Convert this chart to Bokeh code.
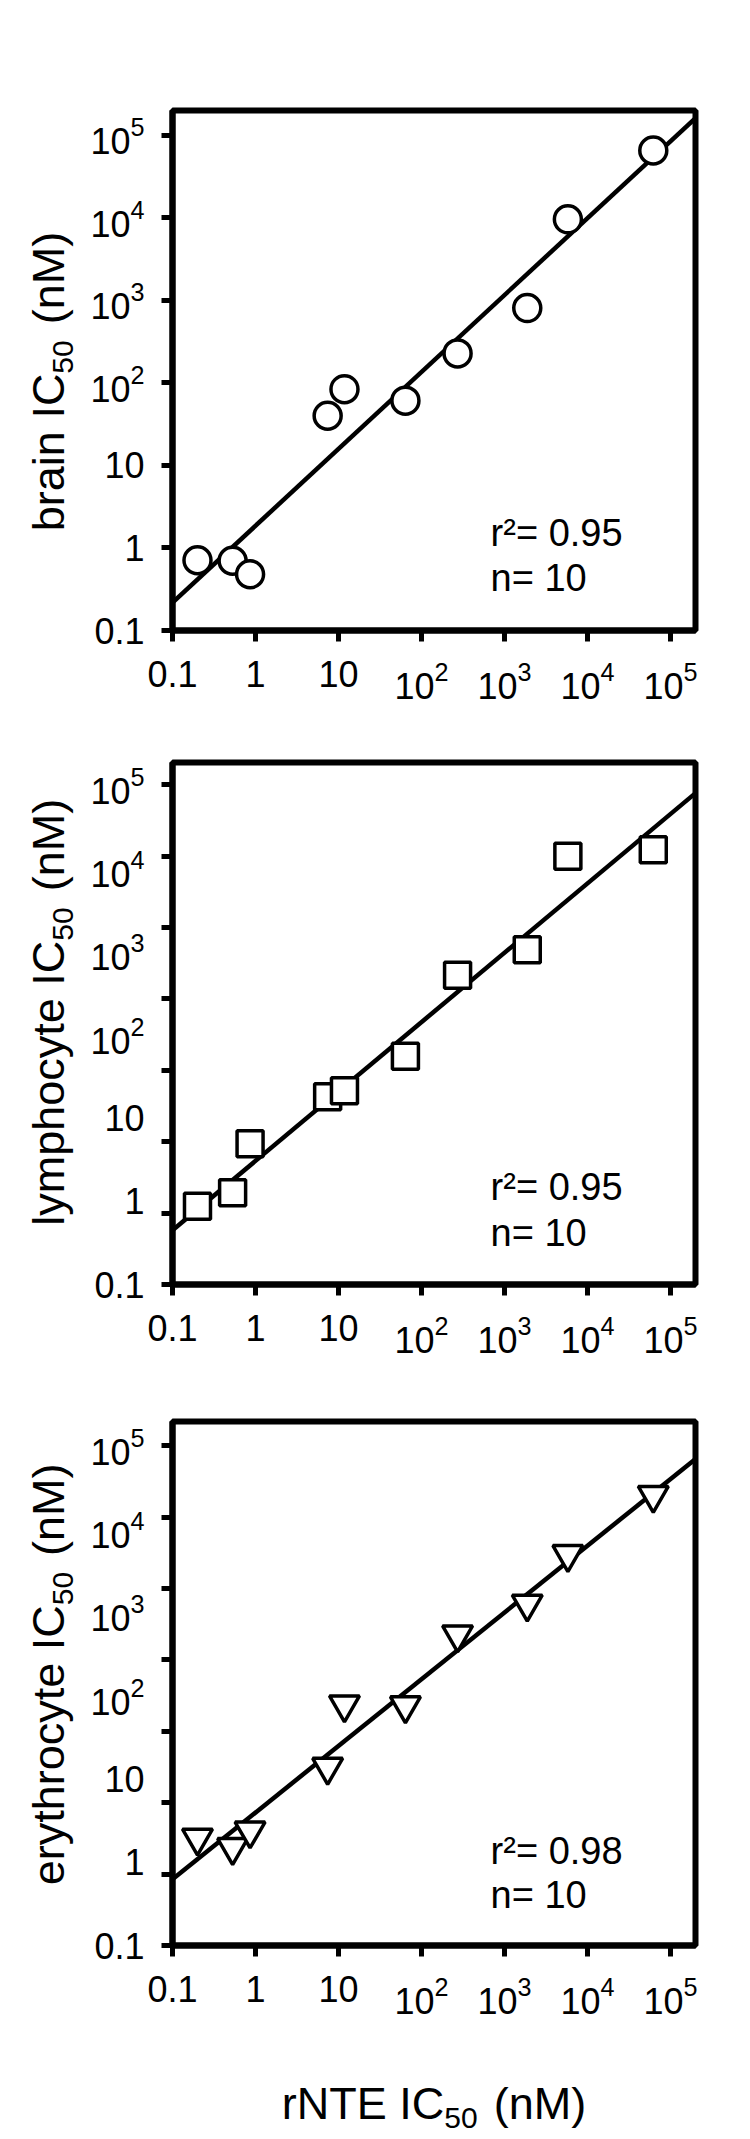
import math
import numpy as np
from bokeh.plotting import figure
from bokeh.layouts import column, row
from bokeh.models import Range1d, FixedTicker, LogTickFormatter, Label
from bokeh.embed import file_html
from bokeh.resources import INLINE

# ---------------- data (nM) ----------------
rnte_ic50 = [0.20, 0.53, 0.86, 7.4, 11.8, 64, 272, 1880, 5800, 62000]
brain_ic50 = [0.71, 0.70, 0.48, 40, 84, 61, 228, 807, 9600, 65500]
lymphocyte_ic50 = [0.87, 1.26, 4.9, 17.9, 21.2, 55, 515, 1047, 13900, 16600]
erythrocyte_ic50 = [1.96, 1.51, 2.39, 13.9, 78, 76, 540, 1262, 4980, 25500]

# regression lines (log10 y = a + b * log10 x)
brain_fit = (0.269, 0.932)
lymphocyte_fit = (0.484, 0.833)
erythrocyte_fit = (0.595, 0.801)

r2_texts = ["r²= 0.95", "r²= 0.95", "r²= 0.98"]
n_texts = ["n= 10", "n= 10", "n= 10"]
y_title_main = ["brain IC", "lymphocyte IC", "erythrocyte IC"]
x_title_main = "rNTE IC"
title_sub = "50"
title_unit = "(nM)"

decade_ticks = [0.1, 1, 10, 100, 1000, 10000, 100000]
plain_labels = {0.1: "0.1", 1: "1", 10: "10"}

FONT = "Liberation Sans"
W = 740            # full row width
TW = 86            # width of the strip holding the rotated y titles
FRAME_L = 172      # frame left edge in page pixels
FRAME_W = 523
X0, X1 = 0.1, 2.0e5
TITLE_PX, SUB_PX, SUB_DROP, SUB_GAP = 45, 30, 14, 16

# Arial / Liberation Sans advance widths (per 1000 em)
ADV = {"r": 333, "N": 722, "T": 611, "E": 667, " ": 278, "I": 278, "C": 722,
       "(": 333, "n": 556, "M": 833, ")": 333, "b": 556, "a": 556, "i": 222,
       "l": 222, "y": 500, "m": 833, "p": 556, "h": 556, "o": 556, "c": 500,
       "t": 278, "e": 556, "5": 556, "0": 556}


def text_w(s, px):
    return sum(ADV.get(ch, 556) for ch in s) / 1000.0 * px


def title_offsets(main):
    wm = text_w(main, TITLE_PX)
    ws = text_w(title_sub, SUB_PX)
    wu = text_w(title_unit, TITLE_PX)
    total = wm + ws + SUB_GAP + wu
    s0 = -total / 2.0
    return [s0, s0 + wm, s0 + wm + ws + SUB_GAP]


def styled_label(**kw):
    return Label(text_font=FONT, text_color="black", text_baseline="alphabetic",
                 text_align="left", **kw)


def blank_fig(w, h):
    f = figure(width=w, height=h, x_range=Range1d(0, w), y_range=Range1d(0, h),
               x_axis_location=None, y_axis_location=None,
               output_backend="svg", toolbar_location=None, min_border=0)
    f.grid.visible = False
    f.outline_line_color = None
    f.background_fill_color = "white"
    f.border_fill_color = "white"
    return f


def y_title_fig(main, h, top, frame_h):
    f = blank_fig(TW, h)
    yc = h - (top + frame_h / 2.0)
    bx = 48
    o = title_offsets(main)
    f.add_layout(styled_label(x=bx, y=yc, y_offset=o[0], angle=math.pi / 2,
                              text=main, text_font_size=f"{TITLE_PX}px"))
    f.add_layout(styled_label(x=bx + SUB_DROP, y=yc, y_offset=o[1], angle=math.pi / 2,
                              text=title_sub, text_font_size=f"{SUB_PX}px"))
    f.add_layout(styled_label(x=bx, y=yc, y_offset=o[2], angle=math.pi / 2,
                              text=title_unit, text_font_size=f"{TITLE_PX}px"))
    return f


def x_title_fig(main, h, baseline_from_bottom):
    f = blank_fig(W, h)
    xc = FRAME_L + FRAME_W / 2.0
    o = title_offsets(main)
    f.add_layout(styled_label(x=xc, y=baseline_from_bottom, x_offset=o[0],
                              text=main, text_font_size=f"{TITLE_PX}px"))
    f.add_layout(styled_label(x=xc, y=baseline_from_bottom - SUB_DROP, x_offset=o[1],
                              text=title_sub, text_font_size=f"{SUB_PX}px"))
    f.add_layout(styled_label(x=xc, y=baseline_from_bottom, x_offset=o[2],
                              text=title_unit, text_font_size=f"{TITLE_PX}px"))
    return f


def make_panel(yvals, fit, marker, msize, r2, ntext, height, top, bottom,
               y_end, odd_ticks, r2y=1.5, ny=0.43):
    pw = W - TW
    p = figure(width=pw, height=height, x_axis_type="log", y_axis_type="log",
               x_range=Range1d(X0, X1), y_range=Range1d(0.1, y_end),
               output_backend="svg", toolbar_location=None,
               min_border_left=FRAME_L - TW, min_border_right=pw - (FRAME_L - TW) - FRAME_W,
               min_border_top=top, min_border_bottom=bottom)
    p.grid.visible = False
    p.background_fill_color = "white"
    p.border_fill_color = "white"
    p.outline_line_color = "black"
    p.outline_line_width = 6

    # x axis
    xa = p.xaxis[0]
    xa.ticker = FixedTicker(ticks=decade_ticks)
    xa.formatter = LogTickFormatter()
    xa.major_label_overrides = plain_labels
    xa.axis_line_width = 6
    xa.major_tick_line_width = 5
    xa.major_tick_out = 11
    xa.major_tick_in = 0
    xa.minor_tick_line_color = None
    xa.major_label_standoff = 19
    xa.major_label_text_font = FONT
    xa.major_label_text_font_size = "36px"
    xa.major_label_text_color = "black"

    # y axis
    ya = p.yaxis[0]
    ya.formatter = LogTickFormatter()
    ya.major_label_overrides = plain_labels
    ya.axis_line_width = 6
    if odd_ticks:
        ya.ticker = FixedTicker(ticks=decade_ticks,
                                minor_ticks=[10 ** (-1 + 6 * k / 7) for k in range(8)])
        ya.major_tick_out = 0
        ya.major_tick_in = 0
        ya.major_tick_line_color = None
        ya.minor_tick_out = 11
        ya.minor_tick_in = 0
        ya.minor_tick_line_width = 5
        ya.minor_tick_line_color = "black"
    else:
        ya.ticker = FixedTicker(ticks=decade_ticks)
        ya.major_tick_out = 11
        ya.major_tick_in = 0
        ya.major_tick_line_width = 5
        ya.minor_tick_line_color = None
    ya.major_label_standoff = 17
    ya.major_label_text_font = FONT
    ya.major_label_text_font_size = "36px"
    ya.major_label_text_color = "black"

    # regression line
    xs = np.array([X0, X1])
    ys = 10 ** (fit[0] + fit[1] * np.log10(xs))
    p.line(xs, ys, line_color="black", line_width=4.5)

    # data points
    p.scatter(rnte_ic50, yvals, marker=marker, size=msize,
              fill_color="white", line_color="black", line_width=3.5)

    for txt, yy in ((r2, r2y), (ntext, ny)):
        p.add_layout(styled_label(x=680, y=yy, text=txt, text_font_size="38px"))
    return p


H1, T1, F1 = 710, 110, 520
H2, T2, F2 = 654, 52, 522
H3, T3, F3 = 661, 57, 524
HX = 2139 - H1 - H2 - H3

p1 = make_panel(brain_ic50, brain_fit, "circle", 27, r2_texts[0], n_texts[0],
                height=H1, top=T1, bottom=H1 - T1 - F1, y_end=2.0e5, odd_ticks=False,
                r2y=1.5, ny=0.43)
p2 = make_panel(lymphocyte_ic50, lymphocyte_fit, "square", 26, r2_texts[1], n_texts[1],
                height=H2, top=T2, bottom=H2 - T2 - F2, y_end=1.85e5, odd_ticks=True,
                r2y=1.48, ny=0.42)
p3 = make_panel(erythrocyte_ic50, erythrocyte_fit, "inverted_triangle", 30, r2_texts[2], n_texts[2],
                height=H3, top=T3, bottom=H3 - T3 - F3, y_end=1.95e5, odd_ticks=True,
                r2y=1.38, ny=0.40)

t1 = y_title_fig(y_title_main[0], H1, T1, F1)
t2 = y_title_fig(y_title_main[1], H2, T2, F2)
t3 = y_title_fig(y_title_main[2], H3, T3, F3)
xt = x_title_fig(x_title_main, HX, HX - 78.3)

layout = column(row(t1, p1, spacing=0), row(t2, p2, spacing=0), row(t3, p3, spacing=0), xt,
                spacing=0)
open("out.html", "w").write(file_html(layout, INLINE))
